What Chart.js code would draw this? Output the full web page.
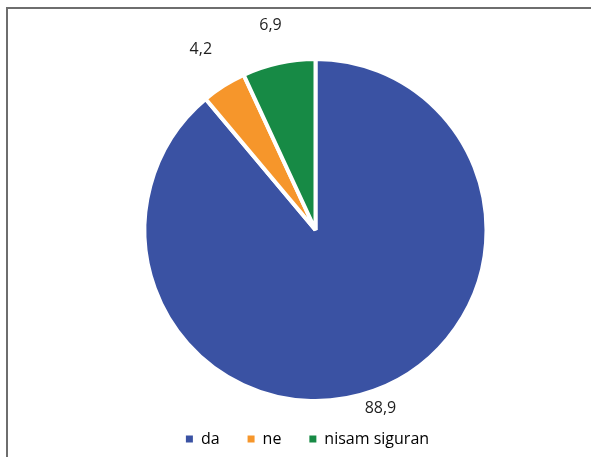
<!DOCTYPE html>
<html>
<head>
<meta charset="utf-8">
<script src="https://cdn.jsdelivr.net/npm/chart.js@4/dist/chart.umd.min.js"></script>
<style>
  html, body { margin: 0; padding: 0; background: #fff; }
  #wrap { position: relative; width: 591px; height: 457px; }
  #frame {
    position: absolute; left: 6px; top: 7px; right: 0; bottom: 0;
    border-top: 2px solid #6e6e6e; border-left: 2px solid #6e6e6e;
    pointer-events: none;
  }
</style>
</head>
<body>
<div id="wrap">
  <canvas id="pie" width="591" height="457"></canvas>
  <div id="frame"></div>
</div>
<script>
// answers and their shares (%)
const categories = ['da', 'ne', 'nisam siguran'];
const shares = [88.9, 4.2, 6.9];
const colors = ['#3a52a3', '#f6962b', '#178a45'];

// value labels outside each slice
const outsideLabels = {
  id: 'outsideLabels',
  afterDatasetsDraw(chart, args, opts) {
    const ctx = chart.ctx;
    const meta = chart.getDatasetMeta(0);
    ctx.save();
    ctx.font = '16px "Open Sans", sans-serif';
    ctx.fillStyle = '#1e1e1e';
    ctx.textAlign = 'center';
    ctx.textBaseline = 'middle';
    meta.data.forEach((arc, i) => {
      const { x, y, startAngle, endAngle, outerRadius } = arc.getProps(['x', 'y', 'startAngle', 'endAngle', 'outerRadius'], true);
      const mid = (startAngle + endAngle) / 2;
      const d = outerRadius + opts.gaps[i];
      const txt = shares[i].toFixed(1).replace('.', ',');
      ctx.fillText(txt, x + Math.cos(mid) * d, y + Math.sin(mid) * d);
    });
    ctx.restore();
  }
};

// legend sits a little left of the pie centre
const legendShift = {
  id: 'legendShift',
  afterLayout(chart, args, opts) {
    chart.legend.left += opts.dx;
    chart.legend.right += opts.dx;
  }
};

new Chart(document.getElementById('pie'), {
  type: 'pie',
  data: {
    labels: categories,
    datasets: [{
      data: shares,
      backgroundColor: colors,
      borderColor: '#ffffff',
      borderWidth: 4,
      radius: 171
    }]
  },
  options: {
    responsive: false,
    animation: false,
    layout: { padding: { left: 40, right: 0, top: 57, bottom: 0 } },
    plugins: {
      tooltip: { enabled: false },
      outsideLabels: { gaps: [19, 43, 38] },
      legendShift: { dx: -8 },
      legend: {
        position: 'bottom',
        labels: {
          boxWidth: 7,
          boxHeight: 7,
          padding: 28,
          color: '#1e1e1e',
          font: { family: '"Open Sans", sans-serif', size: 16 },
          generateLabels(chart) {
            return chart.data.labels.map((label, i) => ({
              text: label,
              fillStyle: colors[i],
              strokeStyle: colors[i],
              lineWidth: 0,
              index: i
            }));
          }
        }
      }
    }
  },
  plugins: [outsideLabels, legendShift]
});
</script>
</body>
</html>
